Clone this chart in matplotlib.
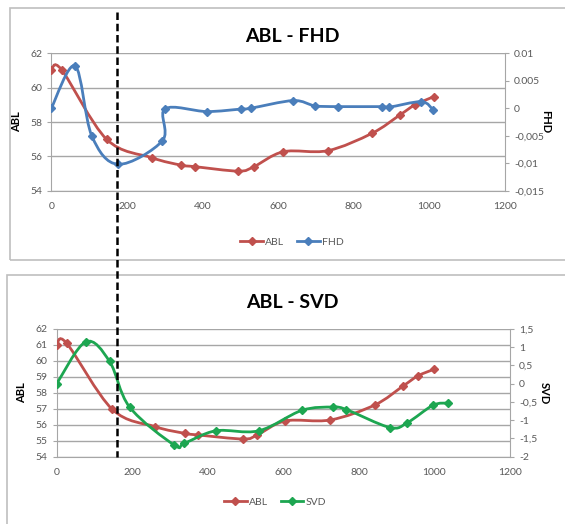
import numpy as np
import matplotlib
matplotlib.use("Agg")
import matplotlib.pyplot as plt
from matplotlib.path import Path
from matplotlib.patches import PathPatch, Rectangle
from matplotlib.lines import Line2D
from matplotlib.transforms import blended_transform_factory

plt.rcParams['font.family'] = ['Lato', 'DejaVu Sans']

# ---------------- data ----------------
abl_top_x = [0, 27, 146, 266, 343, 380, 495, 536, 614, 731, 848, 922, 962, 1011]
abl_top_y = [61.0, 61.05, 57.0, 55.92, 55.49, 55.4, 55.14, 55.4, 56.27, 56.33, 57.34, 58.41, 59.0, 59.47]

fhd_x = [0, 63, 107, 177, 294, 301, 411, 501, 527, 640, 697, 757, 874, 894, 979, 1010]
fhd_y = [0.0, 0.0077, -0.005, -0.0102, -0.0059, -0.0001, -0.0006, -0.00015, 0.0,
         0.0014, 0.00045, 0.0003, 0.0003, 0.0002, 0.0012, -0.0003]

abl_bot_x = [0, 26, 147, 261, 340, 375, 494, 531, 605, 724, 842, 917, 956, 998]
abl_bot_y = [61.0, 61.12, 56.97, 55.88, 55.46, 55.36, 55.11, 55.36, 56.24, 56.3, 57.24, 58.43, 59.06, 59.47]

svd_x = [0, 77, 140, 193, 311, 338, 421, 535, 649, 731, 767, 882, 928, 996, 1035]
svd_y = [0.0, 1.15, 0.61, -0.64, -1.68, -1.63, -1.29, -1.29, -0.73, -0.64, -0.71, -1.2, -1.07, -0.59, -0.53]

x_ticks = [0, 200, 400, 600, 800, 1000, 1200]
abl_top_ticks = [54, 56, 58, 60, 62]
fhd_ticks = [-0.015, -0.01, -0.005, 0, 0.005, 0.01]
fhd_tick_labels = ["-0,015", "-0,01", "-0,005", "0", "0.005", "0.01"]
abl_bot_ticks = [54, 55, 56, 57, 58, 59, 60, 61, 62]
svd_ticks = [-2, -1.5, -1, -0.5, 0, 0.5, 1, 1.5]
svd_tick_labels = ["-2", "-1,5", "-1", "-0,5", "0", "0,5", "1", "1,5"]
boundary_x = 173  # dashed marker position (top chart x units)

RED = "#C0504D"
BLUE = "#4A7EBB"
GREEN = "#1DA651"
GRID = "#A6A6A6"
TICKC = "#595959"

W, H = 565, 524
fig = plt.figure(figsize=(W / 100, H / 100), dpi=100)
fig.patch.set_facecolor("white")


def smooth_path(xs, ys):
    pts = np.column_stack([xs, ys]).astype(float)
    n = len(pts)
    verts = [pts[0]]
    codes = [Path.MOVETO]
    for i in range(n - 1):
        p0 = pts[i - 1] if i > 0 else pts[i]
        p1 = pts[i]
        p2 = pts[i + 1]
        p3 = pts[i + 2] if i + 2 < n else pts[i + 1]
        c1 = p1 + (p2 - p0) / 6.0
        c2 = p2 - (p3 - p1) / 6.0
        verts += [c1, c2, p2]
        codes += [Path.CURVE4] * 3
    return Path(verts, codes)


def draw_series(ax, xs, ys, color, label):
    patch = PathPatch(smooth_path(xs, ys), facecolor="none", edgecolor=color, lw=2.0, zorder=3)
    ax.add_patch(patch)
    ax.plot(xs, ys, linestyle="none", marker="D", ms=4, color=color, zorder=4)
    return Line2D([], [], color=color, lw=2.0, marker="D", ms=4, label=label)


def style_axes(ax, ax2, yticks, ylim, rticks, rlabels, rlim, lname, rname, rpad):
    ax.set_xlim(0, 1200)
    ax.set_ylim(*ylim)
    ax.set_xticks(x_ticks)
    ax.set_yticks(yticks)
    ax.yaxis.grid(True, color=GRID, lw=1.0)
    ax.set_axisbelow(True)
    for s in ["top", "right"]:
        ax.spines[s].set_visible(False)
    for s in ["left", "bottom"]:
        ax.spines[s].set_color(GRID)
    ax.tick_params(axis="both", colors=GRID, labelcolor=TICKC, labelsize=7.5, length=3)
    ax.tick_params(axis="x", length=0, pad=8)
    ax.set_ylabel(lname, fontsize=8, fontweight="bold", labelpad=6)
    ax2.set_ylim(*rlim)
    ax2.set_yticks(rticks)
    ax2.set_yticklabels(rlabels)
    for s in ["top", "left", "bottom"]:
        ax2.spines[s].set_visible(False)
    ax2.spines["right"].set_color(GRID)
    ax2.tick_params(axis="y", colors=GRID, labelcolor=TICKC, labelsize=7.5, length=3)
    ax2.set_ylabel(rname, fontsize=8, fontweight="bold", rotation=-90, labelpad=rpad)


# panel borders
fig.add_artist(Rectangle((10 / W, 1 - 260 / H), 600 / W, 252 / H, transform=fig.transFigure,
                         fill=False, edgecolor="#BFBFBF", lw=1.2))
fig.add_artist(Rectangle((7 / W, 1 - 560 / H), 600 / W, 285 / H, transform=fig.transFigure,
                         fill=False, edgecolor="#BFBFBF", lw=1.2))

# top chart
ax1 = fig.add_axes([51.3 / W, 1 - 190.7 / H, (505 - 51.3) / W, (190.7 - 53.3) / H])
ax1b = ax1.twinx()
h1 = draw_series(ax1, abl_top_x, abl_top_y, RED, "ABL")
h2 = draw_series(ax1b, fhd_x, fhd_y, BLUE, "FHD")
style_axes(ax1, ax1b, abl_top_ticks, (54, 62), fhd_ticks, fhd_tick_labels, (-0.015, 0.01),
           "ABL", "FHD", 5)
fig.text(292 / W, 1 - 36 / H, "ABL - FHD", ha="center", va="center", fontsize=14, fontweight="bold")
fig.legend(handles=[h1, h2], loc="center", bbox_to_anchor=(292 / W, 1 - 242 / H), ncol=2,
           frameon=False, fontsize=7.5, handlelength=2.2, columnspacing=1.2, handletextpad=0.2,
           labelcolor=TICKC)

# bottom chart
ax2 = fig.add_axes([56.7 / W, 1 - 456.7 / H, (510 - 56.7) / W, (456.7 - 329) / H])
ax2b = ax2.twinx()
h3 = draw_series(ax2, abl_bot_x, abl_bot_y, RED, "ABL")
h4 = draw_series(ax2b, svd_x, svd_y, GREEN, "SVD")
style_axes(ax2, ax2b, abl_bot_ticks, (54, 62), svd_ticks, svd_tick_labels, (-2, 1.5),
           "ABL", "SVD", 9)
fig.text(292 / W, 1 - 302 / H, "ABL - SVD", ha="center", va="center", fontsize=14, fontweight="bold")
fig.legend(handles=[h3, h4], loc="center", bbox_to_anchor=(275 / W, 1 - 502 / H), ncol=2,
           frameon=False, fontsize=7.5, handlelength=2.2, columnspacing=1.2, handletextpad=0.2,
           labelcolor=TICKC)

# dashed vertical marker across both charts
tr = blended_transform_factory(ax1.transData, fig.transFigure)
fig.add_artist(Line2D([boundary_x, boundary_x], [1 - 12 / H, 1 - 457 / H], transform=tr,
                      color="black", lw=1.8, linestyle=(0, (3, 1.5)), zorder=10))

fig.savefig("out.png", dpi=100, facecolor="white")
